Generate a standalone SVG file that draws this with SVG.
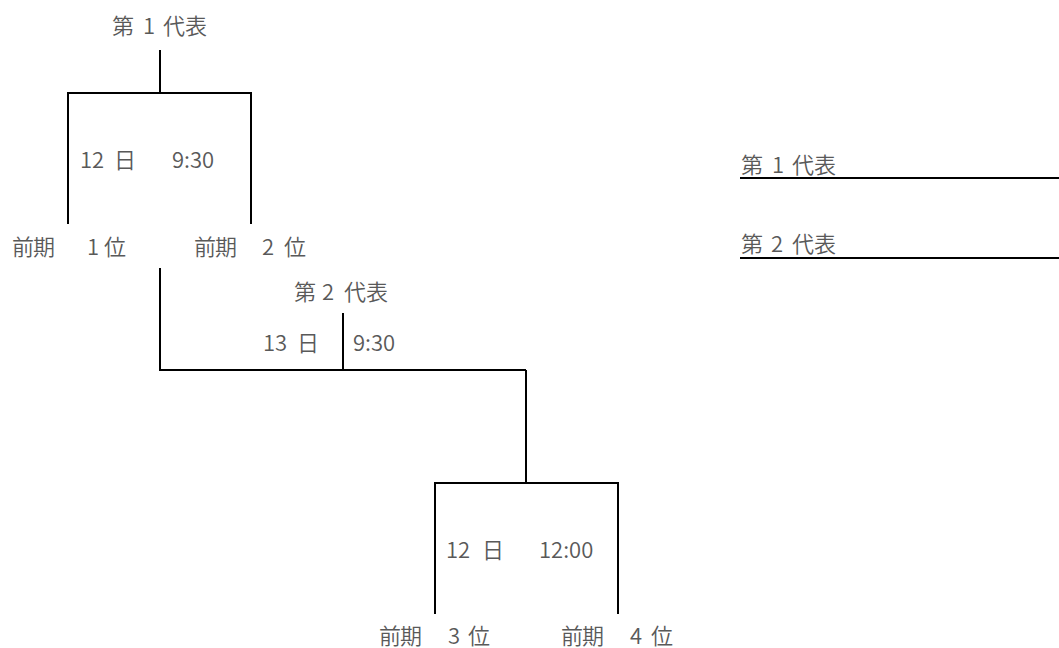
<svg xmlns="http://www.w3.org/2000/svg" width="1059" height="648" viewBox="0 0 1059 648">
<style>
.t{font-family:"Noto Sans CJK JP","Noto Sans CJK SC",sans-serif;font-size:22px;font-weight:350;fill:#595959}
.l{stroke:#000;stroke-width:2;fill:none}
</style>
<rect width="1059" height="648" fill="#fff"/>
<g id="connectors">
<path class="l" d="M160,50V93M68,224V93H251V224"/>
<path class="l" d="M160,268V370H526M343,313V370M526,370V483M435,614V483H618V614"/>
<path class="l" d="M740,178H1059M740,258H1059"/>
</g>
<g id="match1">
<text class="t" x="112 136 143 156 163 185" y="34">第 1 代表</text>
<text class="t" x="80 92 104 114" y="168">12 日</text>
<text class="t" x="172" y="168">9:30</text>
<text class="t" x="12 33 55 87 98 104" y="255">前期　1 位</text>
<text class="t" x="194 215 237 262 276 284" y="255">前期　2 位</text>
</g>
<g id="match2">
<text class="t" x="294 316 322 336 344 366" y="300">第 2 代表</text>
<text class="t" x="263 275 290 297" y="351">13 日</text>
<text class="t" x="353" y="351">9:30</text>
</g>
<g id="match3">
<text class="t" x="446 458 472 482" y="558">12 日</text>
<text class="t" x="539" y="558">12:00</text>
<text class="t" x="379 400 422 448 462 468" y="644">前期　3 位</text>
<text class="t" x="561 582 604 630 645 651" y="644">前期　4 位</text>
</g>
<g id="legend">
<text class="t" x="741 765 772 785 792 814" y="173">第 1 代表</text>
<text class="t" x="741 765 771 785 792 814" y="252">第 2 代表</text>
</g>
</svg>
